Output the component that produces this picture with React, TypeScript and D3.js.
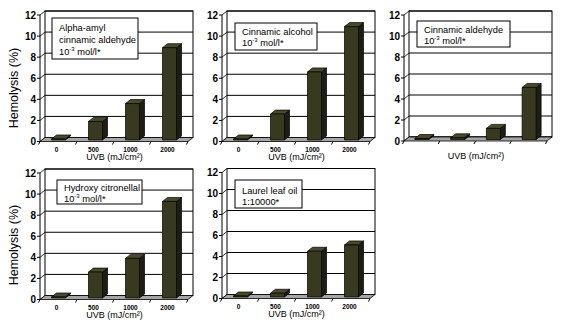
import React from "react";
import * as d3 from "d3";

const categories = ["0", "500", "1000", "2000"];
const yTicks = [0, 2, 4, 6, 8, 10, 12];
const alphaAmyl = [0, 1.9, 3.6, 8.9];
const cinnamicAlcohol = [0, 2.6, 6.6, 10.9];
const cinnamicAldehyde = [0, 0.3, 1.2, 5.1];
const hydroxyCitronellal = [0, 2.6, 3.9, 9.3];
const laurelLeafOil = [0, 0.5, 4.5, 5.1];

const legend1 = ["Alpha-amyl", "cinnamic aldehyde", "10^-3 mol/l*"];
const legend2 = ["Cinnamic alcohol", "10^-3 mol/l*"];
const legend3 = ["Cinnamic aldehyde", "10^-3 mol/l*"];
const legend4 = ["Hydroxy citronellal", "10^-3 mol/l*"];
const legend5 = ["Laurel leaf oil", "1:10000*"];

const xTitle = "UVB (mJ/cm²)";
const yTitle = "Hemolysis (%)";

const DX = 5;
const DY = -4;
const FONT = "'Liberation Sans', Arial, sans-serif";
const LEG_FS = 9.3;

type Panel = {
  values: number[];
  legend: string[];
  x0: number;
  xRight: number;
  y0: number;
  y12: number;
  box: [number, number, number, number];
  baselines: number[];
  showCats: boolean;
  showYTitle: boolean;
  yTitleY: number;
};

const panels: Panel[] = [
  { values: alphaAmyl, legend: legend1, x0: 40, xRight: 193, y0: 141.5, y12: 15, box: [52, 18, 86, 41], baselines: [31, 43, 54.5], showCats: true, showYTitle: true, yTitleY: 88 },
  { values: cinnamicAlcohol, legend: legend2, x0: 222, xRight: 375, y0: 141.5, y12: 15, box: [235, 23, 82, 27], baselines: [34.5, 45.5], showCats: true, showYTitle: false, yTitleY: 0 },
  { values: cinnamicAldehyde, legend: legend3, x0: 404, xRight: 552, y0: 141, y12: 15, box: [417, 21, 93, 26], baselines: [32.5, 43.5], showCats: false, showYTitle: false, yTitleY: 0 },
  { values: hydroxyCitronellal, legend: legend4, x0: 40, xRight: 193, y0: 299.5, y12: 173, box: [57, 180, 85, 24], baselines: [190.5, 201.5], showCats: true, showYTitle: true, yTitleY: 245 },
  { values: laurelLeafOil, legend: legend5, x0: 222, xRight: 375, y0: 298.5, y12: 172.5, box: [235, 180, 67, 28], baselines: [193.5, 204.5], showCats: true, showYTitle: false, yTitleY: 0 },
];

function LegendLine({ text, x, y }: { text: string; x: number; y: number }) {
  const m = text.match(/^(.*?)\^(\S+)(.*)$/);
  if (!m) {
    return (
      <text x={x} y={y} fontSize={LEG_FS} fontFamily={FONT} fill="#000">
        {text}
      </text>
    );
  }
  return (
    <text x={x} y={y} fontSize={LEG_FS} fontFamily={FONT} fill="#000">
      {m[1]}
      <tspan dy={-3.5} fontSize={6}>{m[2]}</tspan>
      <tspan dy={3.5}>{m[3]}</tspan>
    </text>
  );
}

function ChartPanel({ p }: { p: Panel }) {
  const y = d3.scaleLinear().domain([0, 12]).range([p.y0, p.y12]);
  const x = d3
    .scaleBand<string>()
    .domain(categories)
    .range([p.x0, p.xRight - DX])
    .paddingInner(0)
    .paddingOuter(0);
  const bw = 14;
  const base = p.y0 - 1.5;
  const floorPts = [
    [p.x0, p.y0],
    [p.xRight - DX, p.y0],
    [p.xRight, p.y0 + DY],
    [p.x0 + DX, p.y0 + DY],
  ];
  return (
    <g>
      <rect
        x={p.x0 + DX}
        y={y(12) + DY}
        width={p.xRight - p.x0 - DX}
        height={y(0) - y(12)}
        fill="#fff"
        stroke="#000"
        strokeWidth={1}
      />
      {yTicks.map((t) => (
        <g key={t}>
          <line x1={p.x0 + DX} x2={p.xRight} y1={y(t) + DY} y2={y(t) + DY} stroke="#000" strokeWidth={1} />
          <line x1={p.x0} x2={p.x0 + DX} y1={y(t)} y2={y(t) + DY} stroke="#000" strokeWidth={0.8} />
          <line x1={p.x0 - 3} x2={p.x0} y1={y(t)} y2={y(t)} stroke="#000" strokeWidth={1} />
          <text
            x={p.x0 - 4}
            y={y(t)}
            dy="0.35em"
            textAnchor="end"
            fontSize={10}
            fontWeight="bold"
            fontFamily={FONT}
            fill="#000"
          >
            {t}
          </text>
        </g>
      ))}
      <polygon points={floorPts.map((q) => q.join(",")).join(" ")} fill="#a6a6a6" stroke="#000" strokeWidth={0.8} />
      <line x1={p.x0} x2={p.x0} y1={y(12)} y2={y(0)} stroke="#000" strokeWidth={1} />
      {[...categories.map((c) => x(c)!), p.xRight - DX].map((tx, i) => (
        <line key={i} x1={tx} x2={tx - 1.5} y1={p.y0} y2={p.y0 + 3} stroke="#000" strokeWidth={1} />
      ))}
      {p.values.map((v, i) => {
        const c = categories[i];
        const cx = x(c)! + x.bandwidth() / 2;
        const xl = cx - bw / 2;
        const xr = cx + bw / 2;
        const top = Math.min(y(v), base - 1);
        return (
          <g key={c} stroke="#000" strokeWidth={0.7} strokeLinejoin="round">
            <polygon
              points={`${xr},${top} ${xr + DX},${top + DY} ${xr + DX},${base + DY} ${xr},${base}`}
              fill="#1d1d10"
            />
            <polygon
              points={`${xl},${top} ${xl + DX},${top + DY} ${xr + DX},${top + DY} ${xr},${top}`}
              fill="#4a4a2a"
            />
            <rect x={xl} y={top} width={bw} height={base - top} fill="#393920" />
          </g>
        );
      })}
      {p.showCats &&
        categories.map((c) => (
          <text
            key={c}
            x={x(c)! + x.bandwidth() / 2 - 2}
            y={p.y0 + 10}
            textAnchor="middle"
            fontSize={6.5}
            fontWeight="bold"
            fontFamily={FONT}
            fill="#000"
          >
            {c}
          </text>
        ))}
      <text
        x={(p.x0 + p.xRight) / 2 - 2}
        y={p.y0 + 18}
        textAnchor="middle"
        fontSize={9}
        fontFamily={FONT}
        fill="#000"
      >
        {xTitle}
      </text>
      {p.showYTitle && (
        <text
          transform={`translate(18,${p.yTitleY}) rotate(-90)`}
          textAnchor="middle"
          fontSize={12.5}
          fontFamily={FONT}
          fill="#000"
        >
          {yTitle}
        </text>
      )}
      <rect
        x={p.box[0]}
        y={p.box[1]}
        width={p.box[2]}
        height={p.box[3]}
        fill="#fff"
        stroke="#000"
        strokeWidth={1}
      />
      {p.legend.map((l, i) => (
        <LegendLine key={i} text={l} x={p.box[0] + 7} y={p.baselines[i]} />
      ))}
    </g>
  );
}

export default function App() {
  return (
    <svg
      width={575}
      height={325}
      viewBox="0 0 575 325"
      style={{ position: "absolute", left: 0, top: 0, background: "#fff" }}
    >
      <rect x={0} y={0} width={575} height={325} fill="#fff" />
      {panels.map((p, i) => (
        <ChartPanel key={i} p={p} />
      ))}
    </svg>
  );
}
